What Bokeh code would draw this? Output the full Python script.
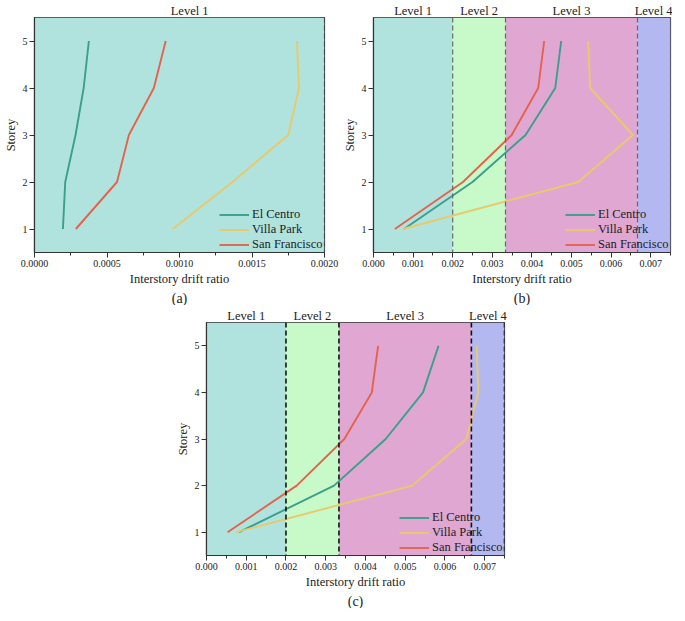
from bokeh.plotting import figure
from bokeh.models import (LinearAxis, FixedTicker, SingleIntervalTicker, NumeralTickFormatter,
                          CustomJSTickFormatter, Span, Range1d, Legend, LegendItem, Title, Spacer)
from bokeh.layouts import column, row
from bokeh.embed import file_html
from bokeh.resources import INLINE

storeys = [1, 2, 3, 4, 5]

# Panel (a)
a_el_centro = [0.000196, 0.000212, 0.000283, 0.000339, 0.000375]
a_villa_park = [0.000954, 0.001365, 0.001750, 0.001824, 0.001810]
a_san_francisco = [0.000285, 0.000569, 0.000651, 0.000823, 0.000905]

# Panel (b)
b_el_centro = [0.00077, 0.00250, 0.00384, 0.00459, 0.00474]
b_villa_park = [0.00074, 0.00517, 0.00655, 0.00547, 0.00542]
b_san_francisco = [0.00054, 0.00226, 0.00349, 0.00416, 0.00431]

# Panel (c)
c_el_centro = [0.00082, 0.00321, 0.00451, 0.00545, 0.00584]
c_villa_park = [0.00074, 0.00518, 0.00654, 0.00684, 0.00680]
c_san_francisco = [0.00053, 0.00227, 0.00347, 0.00416, 0.00432]

level_names = ["Level 1", "Level 2", "Level 3", "Level 4"]
level_bounds = [0.0, 0.002, 1 / 300, 1 / 150, 0.0075]
level_colors = ["#b0e3de", "#c8f9c8", "#dfa7d1", "#b4b8f0"]
a_level_label_x = [0.00107]

series_names = ["El Centro", "Villa Park", "San Francisco"]
series_colors = ["#3a9f8b", "#e8c96c", "#e5624c"]

FONT = "Liberation Serif"


def make_panel(caption, xmax, interval, fmt, data, n_levels, label_x, dash_color, dash_width,
               fw, fh, min_top, min_right):
    p = figure(frame_width=fw, frame_height=fh, output_backend="svg", toolbar_location=None,
               x_range=Range1d(0, xmax), y_range=Range1d(0.5, 5.5),
               x_axis_label="Interstory drift ratio", y_axis_label="Storey",
               min_border_left=0, min_border_right=min_right, min_border_top=min_top,
               min_border_bottom=0)
    p.grid.visible = False
    p.background_fill_color = None
    p.border_fill_color = "white"
    p.outline_line_color = "#333333"
    p.outline_line_width = 1.2

    lefts = level_bounds[:n_levels]
    rights = level_bounds[1:n_levels + 1]
    p.quad(left=lefts, right=rights, bottom=0.5, top=5.5,
           fill_color=level_colors[:n_levels], line_color=None)

    for b in level_bounds[1:n_levels + 1]:
        p.add_layout(Span(location=b, dimension="height", line_color=dash_color,
                          line_width=dash_width, line_dash="5 3"))

    items = []
    for name, col, xs in zip(series_names, series_colors, data):
        r = p.line(xs, storeys, line_color=col, line_width=1.9)
        items.append(LegendItem(label=name, renderers=[r]))

    legend = Legend(items=items, location=(fw - 105, 0), border_line_color=None,
                    background_fill_alpha=0, label_text_font=FONT, label_text_font_size="12.5px",
                    label_text_color="#222222",
                    label_height=13, glyph_height=13, glyph_width=30, spacing=0,
                    padding=0, margin=0, label_standoff=3)
    p.add_layout(legend)

    xa = p.xaxis[0]
    xa.ticker = SingleIntervalTicker(interval=interval, num_minor_ticks=2)
    xa.formatter = NumeralTickFormatter(format=fmt)
    ya = p.yaxis[0]
    ya.ticker = FixedTicker(ticks=storeys)
    for ax in (xa, ya):
        ax.axis_line_color = "#333333"
        ax.axis_line_width = 1.2
        ax.major_tick_in = 0
        ax.major_tick_out = 5
        ax.minor_tick_in = 0
        ax.minor_tick_out = 3
        ax.major_tick_line_color = "#333333"
        ax.minor_tick_line_color = "#333333" if ax is xa else None
        ax.major_label_text_font = FONT
        ax.major_label_text_font_size = "10px"
        ax.major_label_text_color = "#222222"
        ax.axis_label_text_font = FONT
        ax.axis_label_text_font_size = "12.5px"
        ax.axis_label_text_font_style = "normal"
        ax.axis_label_text_color = "#222222"
        ax.major_label_standoff = 2
        ax.axis_label_standoff = 2

    centers = label_x if label_x is not None else [
        (level_bounds[i] + level_bounds[i + 1]) / 2 for i in range(n_levels)]
    top = LinearAxis(ticker=FixedTicker(ticks=centers),
                     formatter=CustomJSTickFormatter(args=dict(labels=level_names),
                                                     code="return labels[index];"),
                     axis_line_color=None, major_tick_line_color=None, minor_tick_line_color=None,
                     major_tick_out=0, major_tick_in=0,
                     major_label_text_font=FONT, major_label_text_font_size="12.5px",
                     major_label_text_color="#222222", major_label_standoff=0)
    p.add_layout(top, "above")

    p.add_layout(Title(text=caption, align="center", text_font=FONT, text_font_size="14px",
                       text_font_style="normal", text_color="#222222", standoff=0), "below")
    return p


pa = make_panel("(a)", 0.002, 0.0005, "0.0000",
                [a_el_centro, a_villa_park, a_san_francisco], 1, a_level_label_x,
                "#333333", 1.2, 290, 235, 0, 15)
pb = make_panel("(b)", 0.0075, 0.001, "0.000",
                [b_el_centro, b_villa_park, b_san_francisco], 4, None,
                "#666666", 1.2, 297, 235, 0, 2)
pc = make_panel("(c)", 0.0075, 0.001, "0.000",
                [c_el_centro, c_villa_park, c_san_francisco], 4, None,
                "#111111", 1.6, 298, 233, 0, 10)

layout = column(row(pa, pb), row(Spacer(width=172, height=10), pc))
open("out.html", "w").write(file_html(layout, INLINE))
